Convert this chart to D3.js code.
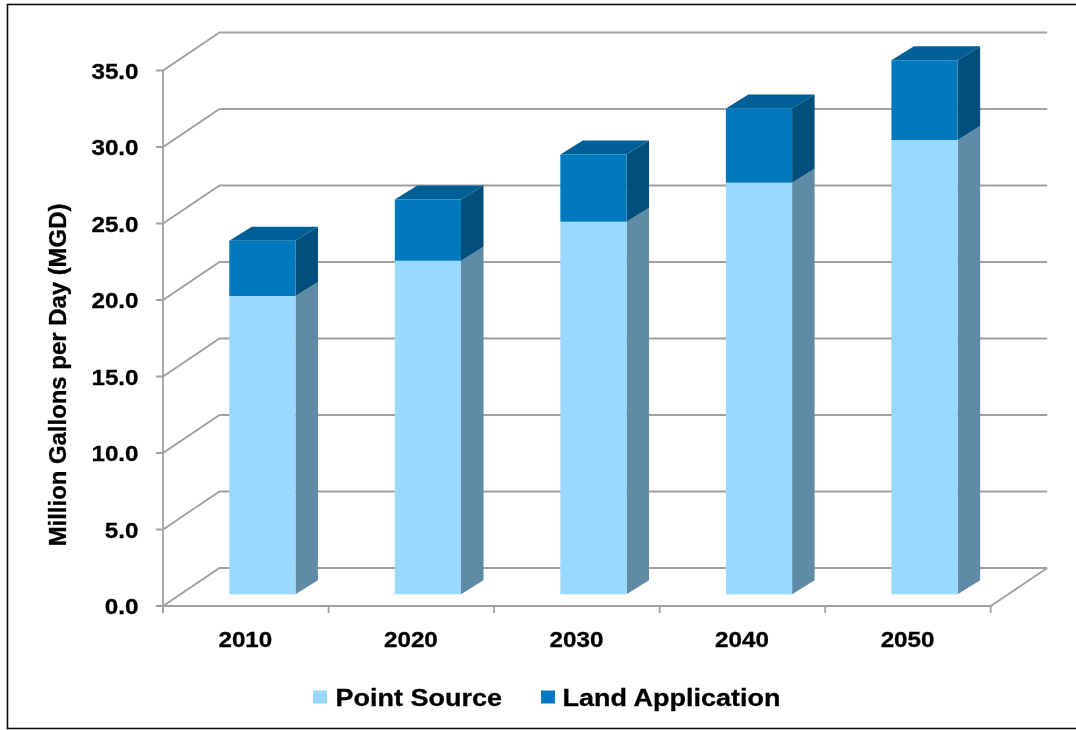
<!DOCTYPE html>
<html><head><meta charset="utf-8">
<script src="https://cdn.jsdelivr.net/npm/d3@7/dist/d3.min.js"></script>
<style>html,body{margin:0;padding:0;background:#fff;overflow:hidden}svg{display:block}text{font-family:"Liberation Sans",Arial,sans-serif;font-weight:bold;fill:#000;stroke:#000;stroke-width:.3px}</style>
</head><body><script>
const categories = ["2010","2020","2030","2040","2050"];
const pointSource = [19.5,21.8,24.35,26.9,29.7];
const landApplication = [3.6,4.0,4.4,4.85,5.2];
const yTicks = [0,5,10,15,20,25,30,35];
const seriesNames = ["Point Source","Land Application"];
const colors = {front:["#99d9ff","#0079bf"],side:["#5f8ba6","#004f7d"],top:["#99d9ff","#005e96"]};

const svg = d3.select("body").append("svg").attr("width",1076).attr("height",730);
const defs=svg.append("defs");
defs.append("filter").attr("id","soft").attr("x","-2%").attr("y","-2%").attr("width","104%").attr("height","104%")
  .append("feGaussianBlur").attr("stdDeviation",0.55);
const root=svg.append("g").attr("filter","url(#soft)");
root.append("rect").attr("x",7.5).attr("y",4.5).attr("width",1090).attr("height",724).attr("fill","#fff").attr("stroke","#111").attr("stroke-width",1.6);

const x0=163,x1=990.7,yB=606,yT=70.5,dx=56.5,dy=-38;
const x=d3.scaleBand().domain(categories).range([x0,x1]).paddingInner(.6).paddingOuter(.3);
const y=d3.scaleLinear().domain([0,35]).range([yB,yT]);
const grid="#a0a0a0";
const label=(px,py,str,size,sx,anchor,rot)=>root.append("text")
  .attr("transform",`translate(${px},${py})${rot?` rotate(${rot})`:""} scale(${sx},1)`)
  .attr("text-anchor",anchor).attr("font-size",size).text(str);
const g=root.append("g").attr("fill","none").attr("stroke",grid).attr("stroke-width",1.8);
yTicks.forEach(t=>{
  g.append("path").attr("d",d3.line()([[x0-7,y(t)],[x0,y(t)],[x0+dx,y(t)+dy],[x1+dx,y(t)+dy]]));
  label(138.5,y(t)+8,t.toFixed(1),22,1.1,"end");
});
g.append("path").attr("d",d3.line()([[x0,yT],[x0,yB+7]]));
g.append("path").attr("d",d3.line()([[x0,yB],[x1,yB],[x1+dx,yB+dy]]));
d3.range(6).forEach(i=>{const px=x0+i*x.step();g.append("path").attr("d",d3.line()([[px,yB],[px,yB+7]]));});

const fx=16.6,fy=-11.7,sx=22.5,sy=-14;
const barsY=v=>y(v)+fy;
categories.forEach((c,i)=>{
  const l=x(c)+fx,r=l+x.bandwidth();
  let base=0;
  [pointSource[i],landApplication[i]].forEach((v,k)=>{
    const a=barsY(base),b=barsY(base+v);
    const poly=(pts,f)=>root.append("polygon").attr("points",pts.join(" ")).attr("fill",f);
    poly([[r,a],[r+sx,a+sy],[r+sx,b+sy],[r,b]],colors.side[k]);
    if(k===1)poly([[l,b],[l+sx,b+sy],[r+sx,b+sy],[r,b]],colors.top[k]);
    poly([[l,a],[r,a],[r,b],[l,b]],colors.front[k]);
    base+=v;
  });
  label(l+x.bandwidth()/2-17,646.5,c,22,1.1,"middle");
});
label(65.5,375,"Million Gallons per Day (MGD)",23,1.04,"middle",-90);
const lx=[313,541], tx=[335.5,562.5];
seriesNames.forEach((n,i)=>{
  root.append("rect").attr("x",lx[i]).attr("y",690.5).attr("width",14).attr("height",13).attr("fill",colors.front[i]);
  label(tx[i],705.5,n,24,1.125,"start");
});
</script></body></html>
